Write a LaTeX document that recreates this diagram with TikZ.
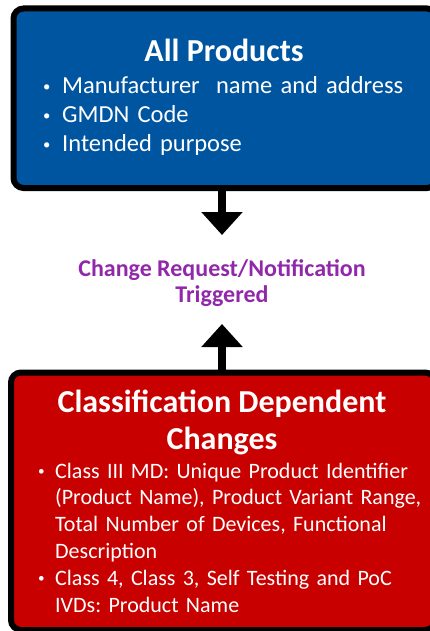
\documentclass[tikz,border=0pt]{standalone}
\usepackage{fontspec}
\usepackage{graphicx}
\setmainfont{Carlito}
\frenchspacing
\usetikzlibrary{arrows.meta}
\definecolor{prodblue}{RGB}{0,85,160}
\definecolor{classred}{RGB}{200,0,0}
\definecolor{trigpurple}{RGB}{145,40,170}
\newcommand{\bitem}[2][20pt]{\hangindent=#1\hangafter=1\noindent\makebox[#1][l]{\hspace{1pt}\raisebox{0.12em}{\scalebox{0.6}{\textbullet}}}#2\par}
\tikzset{
  panel/.style = {draw = black, line width = 6pt, rounded corners = 10pt, inner sep = 0pt},
  bigarrow/.style = {line width = 8pt, -{Triangle[width = 40pt, length = 23pt]}},
  paneltitle/.style = {text = white, inner sep = 0pt, align = center,
    font = \bfseries\fontsize{32}{37}\selectfont},
  panellist/.style = {text = white, inner sep = 0pt, align = left, anchor = base west}
}
\begin{document}
\begin{tikzpicture}[x = 1pt, y = -1pt]
    \useasboundingbox (0,0) rectangle (429,631);
    % the two panels
    \node[panel, fill = prodblue, minimum width = 423.5pt, minimum height = 179.5pt] (allprod) at (225.25,98.25) {};
    \node[panel, fill = classred, minimum width = 424pt, minimum height = 257.5pt] (classdep) at (223,501.25) {};
    % blue panel text
    \node[paneltitle, anchor = base] (allprodtitle) at (224,62) {All Products};
    \node[panellist, text width = 380pt, font = \fontsize{24.5}{29}\selectfont] (allprodlist) at (42,94)
        {\bitem{Manufacturer\ \ name and address}\bitem{GMDN Code}\bitem{Intended purpose}};
    % red panel text
    \node[paneltitle, anchor = base] (classdeptitle) at (222,449) {Classification Dependent\\Changes};
    \node[panellist, text width = 420pt, font = \fontsize{22}{26.8}\selectfont] (classdeplist) at (37,478)
        {\bitem[18pt]{Class III MD: Unique Product Identifier\newline (Product Name), Product Variant Range,\newline Total Number of Devices, Functional\newline Description}%
         \bitem[18pt]{Class 4, Class 3, Self Testing and PoC\newline IVDs: Product Name}};
    % middle text and arrows
    \node[text = trigpurple, align = center, anchor = base, inner sep = 0pt,
          font = \bfseries\fontsize{24}{26}\selectfont] (trigger) at (222,302) {Change Request/Notification\\Triggered};
    \coordinate (tipdown) at (222,235);
    \coordinate (tipup) at (222,324);
    \draw[bigarrow] (allprod.south -| tipdown) -- (tipdown);
    \draw[bigarrow] (classdep.north -| tipup) -- (tipup);
\end{tikzpicture}
\end{document}
